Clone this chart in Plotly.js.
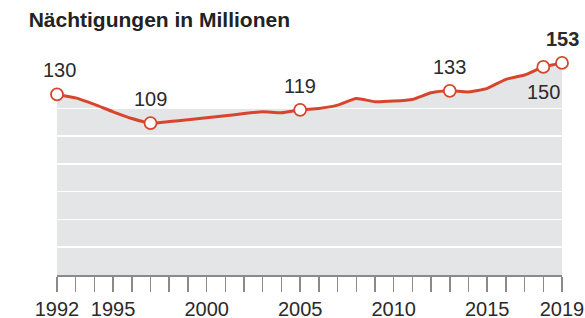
<!DOCTYPE html>
<html>
<head>
<meta charset="utf-8">
<script src="https://cdn.plot.ly/plotly-3.0.1.min.js"></script>
<style>html,body{margin:0;padding:0;background:#fff;}#chart{width:585px;height:318px;}</style>
</head>
<body>
<div id="chart"></div>
<script>
// Data (Nächtigungen in Millionen)
const years = [1992,1993,1994,1995,1996,1997,1998,1999,2000,2001,2002,2003,2004,2005,2006,2007,2008,2009,2010,2011,2012,2013,2014,2015,2016,2017,2018,2019];
const nights = [130.0,127.5,122.8,117.5,112.7,109.4,110.5,111.7,113.2,114.6,116.3,117.5,116.8,118.9,119.9,122.3,127.1,124.7,125.2,126.4,131.2,132.6,131.8,134.4,140.9,144.0,149.8,152.7];
const labelYears = [1992,1997,2005,2013,2018,2019];
const labelTexts = ["130","109","119","133","150","153"];
const labelBelow = [false,false,false,false,true,false];
const labelBold = [false,false,false,false,false,true];
const tickYears = [1992,1995,2000,2005,2010,2015,2019];
const tickLabels = ["1992","1995","2000","2005","2010","2015","2019"];
const gridValues = [0,20,40,60,80,100,120];

const RED = '#d7462c';
const GRAY = '#e4e5e6';
const FONT = 'Liberation Sans, Arial, sans-serif';

const xRange = [years[0], years[years.length-1]];
const yRange = [0, 169.2];

const labelVals = labelYears.map(y => nights[years.indexOf(y)]);

const traces = [
  { // area fill (subplot 1, under the grid)
    x: years, y: nights, xaxis: 'x', yaxis: 'y',
    type: 'scatter', mode: 'lines', fill: 'tozeroy',
    fillcolor: GRAY, line: {width: 0, color: GRAY, shape: 'spline', smoothing: 0.5}, hoverinfo: 'skip'
  },
  { // line (subplot 2, above the grid)
    x: years, y: nights, xaxis: 'x2', yaxis: 'y2',
    type: 'scatter', mode: 'lines',
    line: {color: RED, width: 3, shape: 'spline', smoothing: 0.5}, cliponaxis: false
  },
  { // labelled points
    x: labelYears, y: labelVals, xaxis: 'x2', yaxis: 'y2',
    type: 'scatter', mode: 'markers', cliponaxis: false,
    marker: {size: 12, color: '#ffffff', line: {color: RED, width: 1.8}}
  }
];

const annotations = labelYears.map((yr, i) => ({
  x: yr, y: labelVals[i], xref: 'x2', yref: 'y2',
  text: labelBold[i] ? '<b>' + labelTexts[i] + '</b>' : labelTexts[i],
  showarrow: false, xanchor: 'center', yanchor: 'middle',
  yshift: labelBelow[i] ? -25 : 24,
  xshift: (i === 0 ? 2 : 0),
  font: {family: FONT, size: 20, color: '#2a2a2a'}
}));

const layout = {
  width: 585, height: 318,
  margin: {l: 57, r: 23, t: 40, b: 43},
  paper_bgcolor: '#ffffff',
  plot_bgcolor: 'rgba(0,0,0,0)',
  showlegend: false,
  title: {
    text: '<b>Nächtigungen in Millionen</b>',
    xref: 'container', yref: 'container',
    x: 0.049, xanchor: 'left', y: 0.937, yanchor: 'middle',
    font: {family: FONT, size: 21, color: '#222222'}
  },
  xaxis: {range: xRange, visible: false, fixedrange: true},
  yaxis: {range: yRange, visible: false, fixedrange: true},
  xaxis2: {
    anchor: 'y2', range: xRange, fixedrange: true,
    tickmode: 'array', tickvals: tickYears, ticktext: tickLabels,
    ticks: 'outside', ticklen: 15, tickwidth: 1.5, tickcolor: '#8a8a8a',
    showline: true, linecolor: '#8a8a8a', linewidth: 1.5,
    showgrid: false, zeroline: false,
    tickfont: {family: FONT, size: 20, color: '#2a2a2a'},
    minor: {tickmode: 'linear', tick0: 1992, dtick: 1, ticks: 'outside', ticklen: 15, tickwidth: 1.5, tickcolor: '#8a8a8a', showgrid: false}
  },
  yaxis2: {
    anchor: 'x2', range: yRange, fixedrange: true,
    tickmode: 'array', tickvals: gridValues,
    showgrid: true, gridcolor: '#ffffff', gridwidth: 1.5,
    showticklabels: false, ticks: '', zeroline: false, showline: false
  },
  shapes: [{
    type: 'rect', xref: 'x', yref: 'y', layer: 'below',
    x0: xRange[0], x1: xRange[1], y0: gridValues[0], y1: gridValues[gridValues.length-1],
    fillcolor: GRAY, line: {width: 0}
  }],
  annotations: annotations
};

Plotly.newPlot('chart', traces, layout, {displayModeBar: false, staticPlot: true});
</script>
</body>
</html>
